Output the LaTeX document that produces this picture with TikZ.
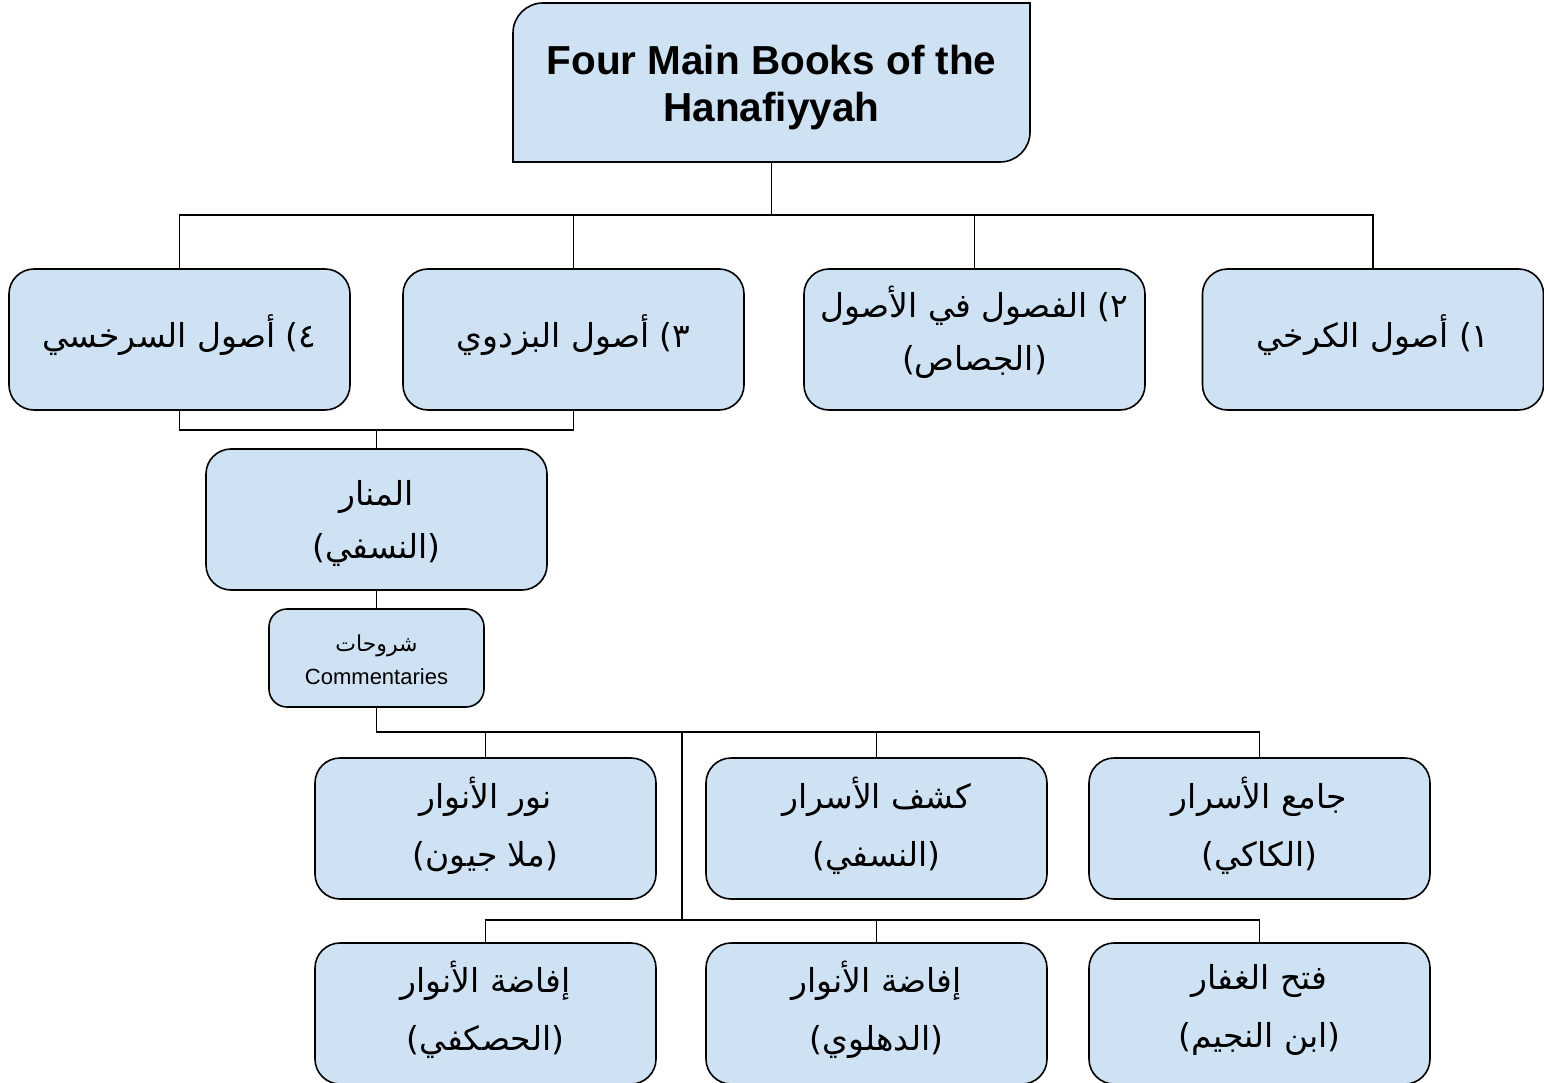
\documentclass[tikz,border=0pt]{standalone}
\usepackage{fontspec}
\setmainfont{Liberation Sans}
\newfontfamily\ar[Script=Arabic]{DejaVu Sans}
\TeXXeTstate=1
\definecolor{boxblue}{HTML}{CFE2F3}
\begin{document}
\begin{tikzpicture}[x=1pt,y=-1pt, line width=1.6pt,
  bx/.style={draw=black, fill=boxblue, rounded corners=25pt, minimum width=341pt,
    minimum height=141pt, inner sep=0pt},
  txt/.style={inner sep=0pt, align=center, font=\ar\fontsize{33}{58}\selectfont},
  txtb/.style={inner sep=0pt, align=center, font=\ar\fontsize{33}{53}\selectfont},
  conn/.style={draw=black, line width=1.6pt}]
\useasboundingbox (0,0) rectangle (1544,1083);

% top box with two rounded corners
\filldraw[fill=boxblue, draw=black, line width=1.6pt]
  (513,162) -- (513,33) .. controls (513,16.4) and (526.4,3) .. (543,3)
  -- (1030,3) -- (1030,132) .. controls (1030,148.6) and (1016.6,162) .. (1000,162) -- cycle;
\node[minimum width=517pt, minimum height=159pt, inner sep=0pt] (top) at (771.5,82.5) {};
\node[inner sep=0pt, align=center, font=\fontsize{40.5}{47}\selectfont\bfseries]
  (topt) at (771.5,87.5) {Four Main Books of the\\Hanafiyyah};

% row 1
\node[bx] (b4) at (179.5,339.5) {};
\node[bx] (b3) at (573.5,339.5) {};
\node[bx] (b2) at (974.5,339.5) {};
\node[bx] (b1) at (1373,339.5) {};
\node[txt] (b4t) at (179.5,335) {\beginR\mbox{٤}\mbox{)} أصول السرخسي\endR};
\node[txt] (b3t) at (573.5,335) {\beginR\mbox{٣}\mbox{)} أصول البزدوي\endR};
\node[txtb] (b2t) at (974.5,332.5)
  {\beginR\mbox{٢}\mbox{)} الفصول في الأصول\endR\\\beginR(الجصاص)\endR};
\node[txt] (b1t) at (1373,335) {\beginR\mbox{١}\mbox{)} أصول الكرخي\endR};

% manar
\node[bx] (manar) at (376.5,519.5) {};
\node[txtb] (manart) at (376.5,523) {\beginR المنار\endR\\\beginR(النسفي)\endR};

% commentaries
\node[bx, minimum width=215pt, minimum height=98pt, rounded corners=18pt] (comm) at (376.5,658) {};
\node[inner sep=0pt, align=center, font=\fontsize{22}{33}\selectfont] (commt) at (376.5,660)
  {{\ar\beginR شروحات\endR}\\Commentaries};

% row 3
\node[bx] (r3a) at (485.5,828.5) {};
\node[bx] (r3b) at (876.5,828.5) {};
\node[bx] (r3c) at (1259.5,828.5) {};
\node[txt] (r3at) at (485.5,825.5) {\beginR نور الأنوار\endR\\\beginR(ملا جيون)\endR};
\node[txt] (r3bt) at (876.5,825.5) {\beginR كشف الأسرار\endR\\\beginR(النسفي)\endR};
\node[txt] (r3ct) at (1259.5,825.5) {\beginR جامع الأسرار\endR\\\beginR(الكاكي)\endR};

% row 4
\node[bx] (r4a) at (485.5,1013.5) {};
\node[bx] (r4b) at (876.5,1013.5) {};
\node[bx] (r4c) at (1259.5,1013.5) {};
\node[txt] (r4at) at (485.5,1009.5) {\beginR إفاضة الأنوار\endR\\\beginR(الحصكفي)\endR};
\node[txt] (r4bt) at (876.5,1009.5) {\beginR إفاضة الأنوار\endR\\\beginR(الدهلوي)\endR};
\node[txt] (r4ct) at (1259.5,1009.5) {\beginR فتح الغفار\endR\\\beginR(ابن النجيم)\endR};

% connectors
\coordinate (j1) at (771.5,215);
\draw[conn] (top.south) -- (j1);
\draw[conn] (b4.north) -- (b4.north |- j1) -- (b1.north |- j1) -- (b1.north);
\draw[conn] (b3.north) -- (b3.north |- j1);
\draw[conn] (b2.north) -- (b2.north |- j1);

\coordinate (j2) at (376.5,430);
\draw[conn] (b4.south) -- (b4.south |- j2) -- (b3.south |- j2) -- (b3.south);
\draw[conn] (j2) -- (manar.north);
\draw[conn] (manar.south) -- (comm.north);

\coordinate (j3) at (682,732);
\draw[conn] (comm.south) -- (comm.south |- j3) -- (r3c.north |- j3) -- (r3c.north);
\draw[conn] (r3a.north) -- (r3a.north |- j3);
\draw[conn] (r3b.north) -- (r3b.north |- j3);

\coordinate (j4) at (682,920);
\draw[conn] (j3) -- (j4);
\draw[conn] (r4a.north) -- (r4a.north |- j4) -- (r4c.north |- j4) -- (r4c.north);
\draw[conn] (r4b.north) -- (r4b.north |- j4);
\end{tikzpicture}
\end{document}
